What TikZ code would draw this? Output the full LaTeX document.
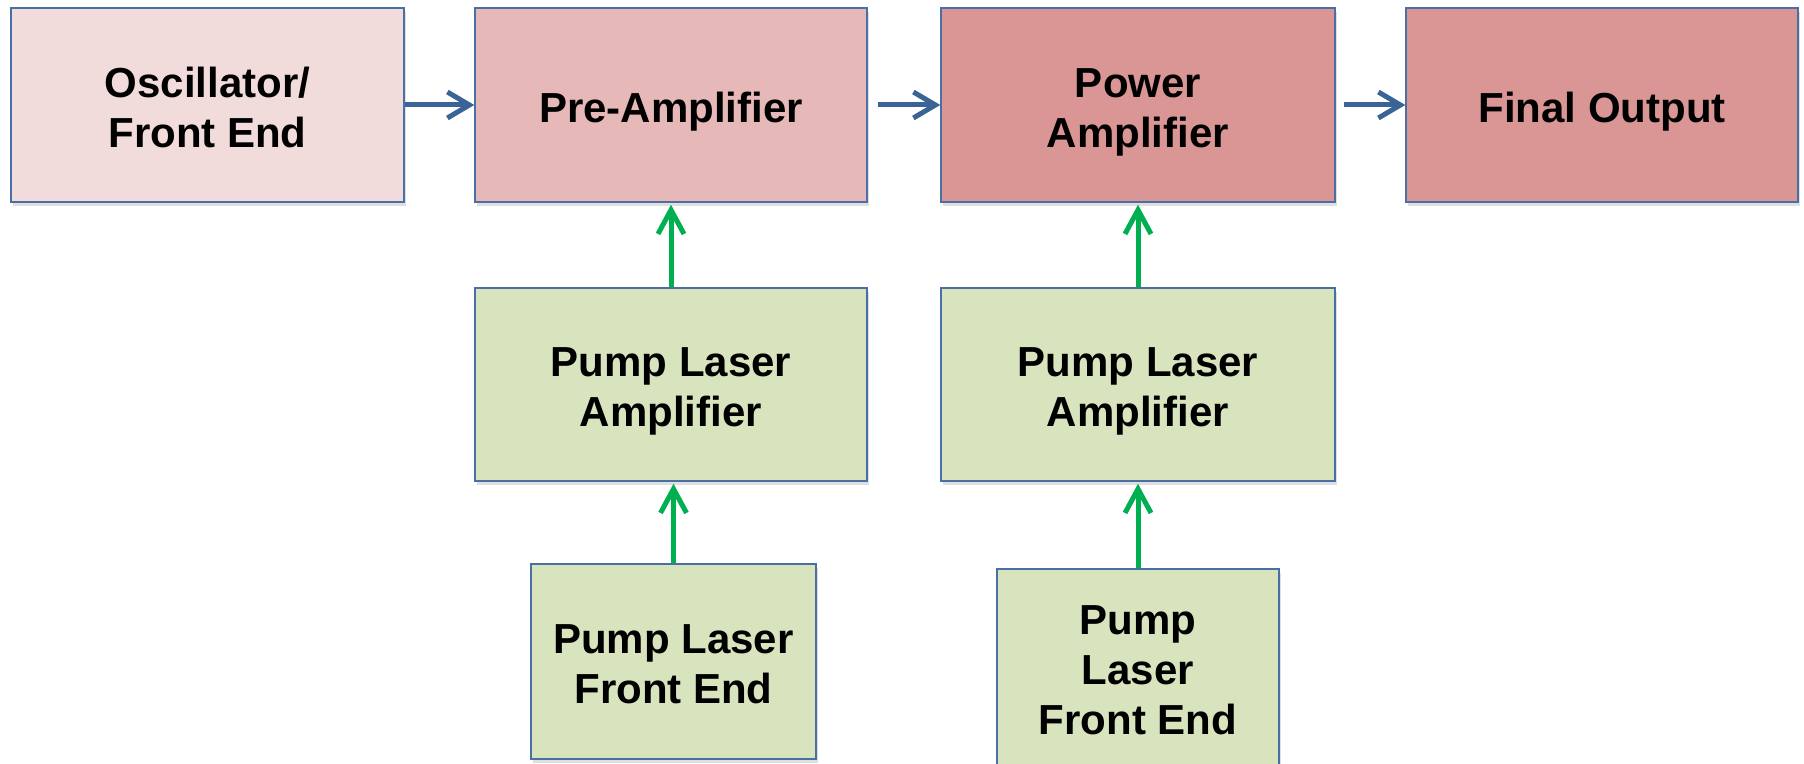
\documentclass[tikz,border=0pt]{standalone}
\usepackage{fontspec}
\setmainfont{Liberation Sans}
\usetikzlibrary{arrows.meta,shadows}

\definecolor{oscfill}{HTML}{F2DCDB}
\definecolor{prefill}{HTML}{E6B9B8}
\definecolor{powfill}{HTML}{D99694}
\definecolor{pumpfill}{HTML}{D7E4BD}
\definecolor{boxline}{HTML}{4A6FA5}
\definecolor{sigline}{HTML}{3A6496}
\definecolor{pumpline}{HTML}{00B050}

\tikzset{
  % #1 = height of the text above its last baseline
  stagebox/.style={draw=boxline, line width=0.7pt, inner sep=0pt, align=center,
    font=\bfseries\fontsize{21}{25}\selectfont,
    execute at begin node={\rule{0pt}{#1}},
    execute at end node={\rule[-4.5pt]{0pt}{4.5pt}},
    drop shadow={shadow xshift=1.2pt, shadow yshift=-2pt, opacity=0.25}},
  stagebox/.default=21.7pt,
  sigarrow/.style={draw=sigline, line width=2.5pt,
    -{Straight Barb[length=11pt, width=13pt]}},
  pumparrow/.style={draw=pumpline, line width=2.5pt,
    -{Straight Barb[length=12pt, width=13pt]}}
}

\begin{document}
\begin{tikzpicture}[x=0.5pt, y=-0.5pt]
\useasboundingbox (0,0) rectangle (1804,764);

% Top row
\node[stagebox=46.7pt, fill=oscfill, minimum width=196.5pt, minimum height=97pt] (osc) at (207.5,105) {Oscillator/\\Front End};
\node[stagebox, fill=prefill, minimum width=196pt, minimum height=97pt] (pre) at (671,105) {Pre-Amplifier};
\node[stagebox=46.7pt, fill=powfill, minimum width=197pt, minimum height=97pt] (pow) at (1138,105) {Power\\Amplifier};
\node[stagebox, fill=powfill, minimum width=196pt, minimum height=97pt] (fin) at (1602,105) {Final Output};

% Pump amplifiers
\node[stagebox=46.7pt, fill=pumpfill, minimum width=196pt, minimum height=96.5pt] (plaA) at (671,384.5) {Pump Laser\\Amplifier};
\node[stagebox=46.7pt, fill=pumpfill, minimum width=197pt, minimum height=96.5pt] (plaB) at (1138,384.5) {Pump Laser\\Amplifier};

% Pump front ends
\node[stagebox=46.7pt, fill=pumpfill, minimum width=142.5pt, minimum height=97.5pt] (plfeA) at (673.5,661.5) {Pump Laser\\ Front End};
\node[stagebox=71.7pt, fill=pumpfill, minimum width=141pt, minimum height=98pt] (plfeB) at (1138,667) {Pump\\Laser\\Front End};

% Signal path
\draw[sigarrow] (osc.east) -- (pre.west);
\draw[sigarrow, shorten <=5pt] (pre.east) -- (pow.west);
\draw[sigarrow, shorten <=4pt] (pow.east) -- (fin.west);

% Pump path
\draw[pumparrow, shorten >=1pt] (plaA.north) -- (pre.south);
\draw[pumparrow, shorten >=1pt] (plaB.north) -- (pow.south);
\draw[pumparrow, shorten >=1pt] (plfeA.north) -- (plfeA.north |- plaA.south);
\draw[pumparrow, shorten >=1pt] (plfeB.north) -- (plfeB.north |- plaB.south);
\end{tikzpicture}
\end{document}
